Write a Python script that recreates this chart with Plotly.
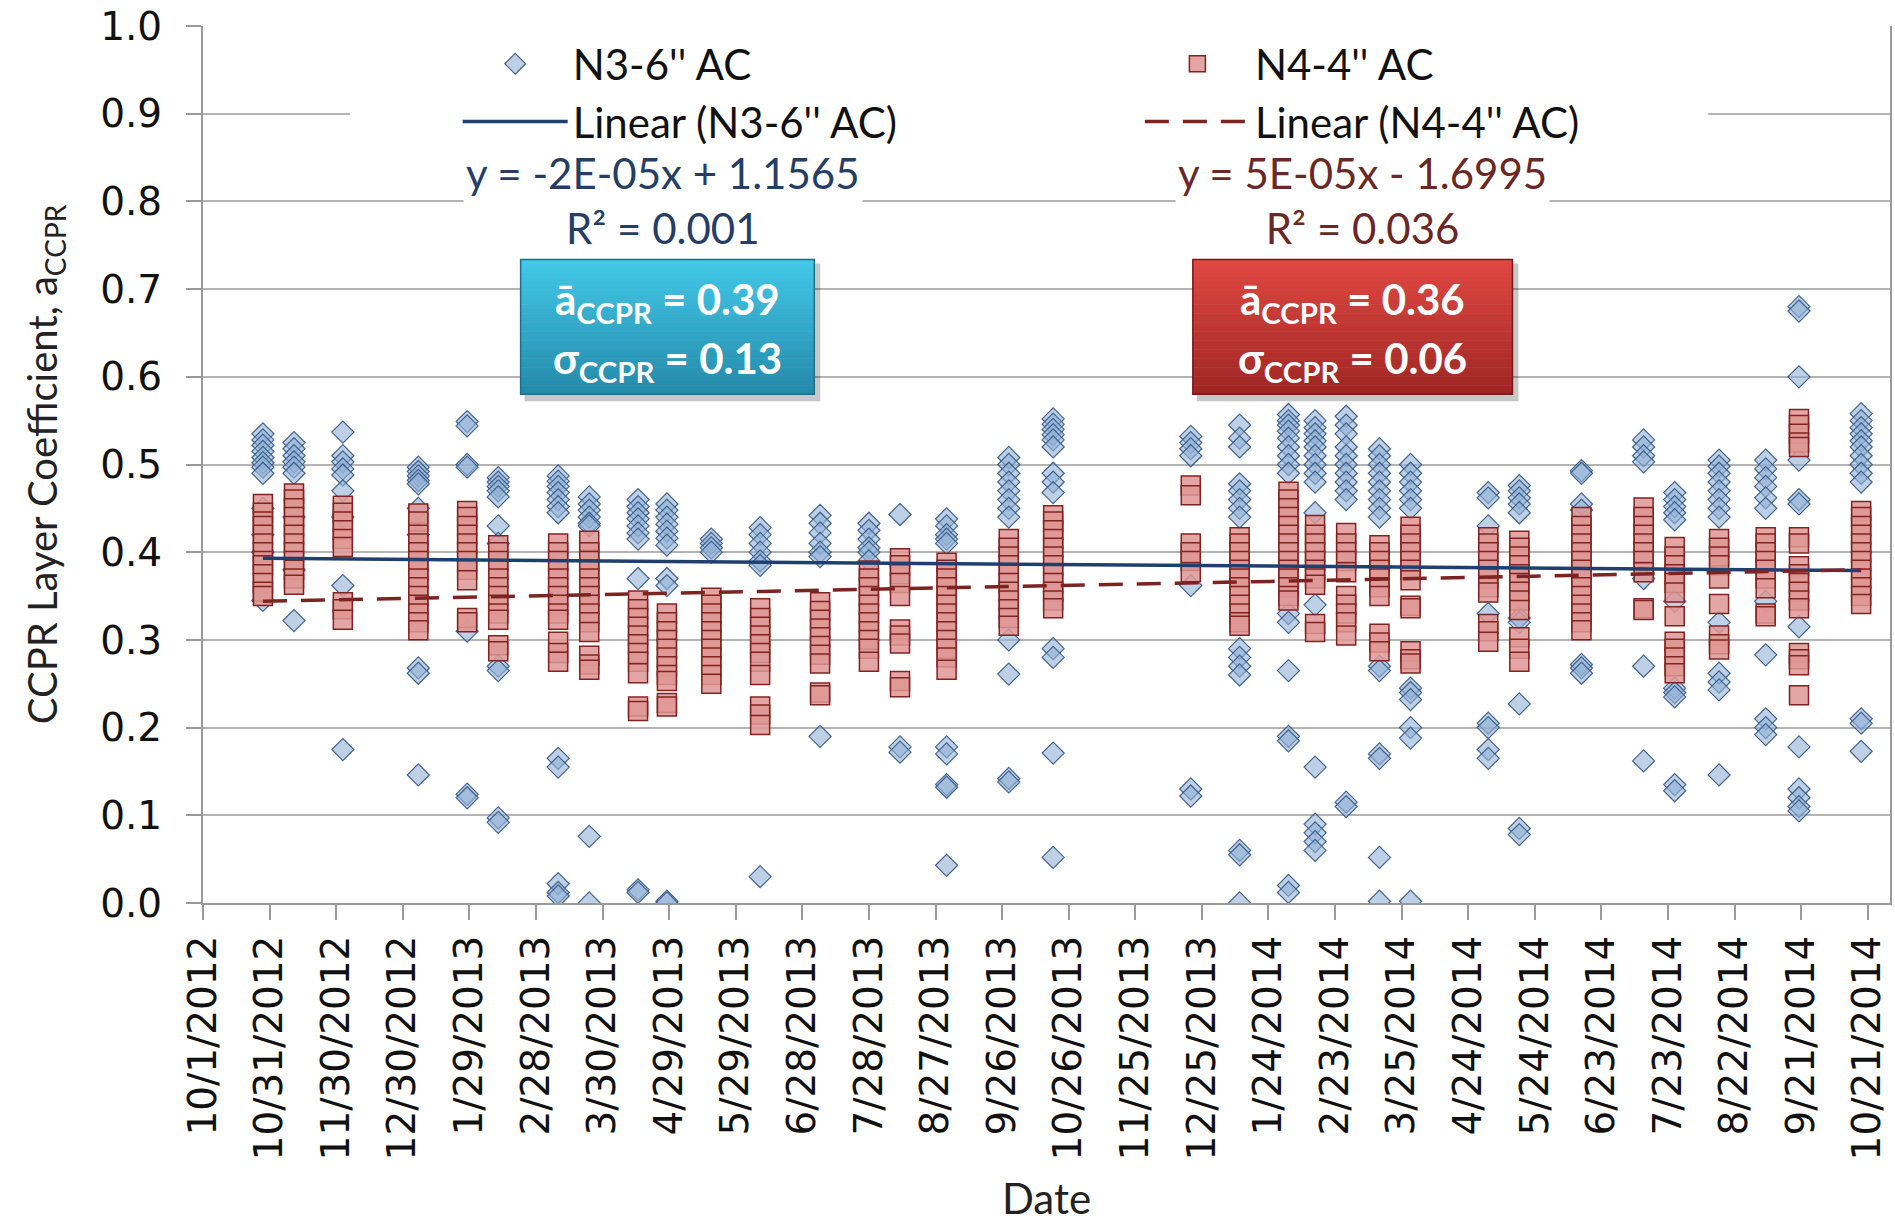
import plotly.graph_objects as go

# ---------------- data ----------------
dates = ["2012-10-28", "2012-11-11", "2012-12-03", "2013-01-06", "2013-01-28", "2013-02-11",
         "2013-03-10", "2013-03-24", "2013-04-15", "2013-04-28", "2013-05-18", "2013-06-09",
         "2013-07-06", "2013-07-28", "2013-08-11", "2013-09-01", "2013-09-29", "2013-10-19",
         "2013-12-20", "2014-01-11", "2014-02-02", "2014-02-14", "2014-02-28", "2014-03-15",
         "2014-03-29", "2014-05-03", "2014-05-17", "2014-06-14", "2014-07-12", "2014-07-26",
         "2014-08-15", "2014-09-05", "2014-09-20", "2014-10-18"]

n3_values = [
    [0.535, 0.528, 0.522, 0.515, 0.508, 0.502, 0.497, 0.49, 0.45, 0.42, 0.40, 0.345],
    [0.525, 0.518, 0.51, 0.503, 0.497, 0.49, 0.44, 0.38, 0.322],
    [0.537, 0.51, 0.503, 0.495, 0.488, 0.47, 0.44, 0.362, 0.175],
    [0.497, 0.492, 0.487, 0.482, 0.478, 0.45, 0.42, 0.268, 0.262, 0.146],
    [0.549, 0.544, 0.5, 0.497, 0.31, 0.124, 0.12],
    [0.485, 0.48, 0.475, 0.47, 0.463, 0.43, 0.41, 0.27, 0.265, 0.097, 0.092],
    [0.487, 0.481, 0.475, 0.468, 0.46, 0.452, 0.445, 0.165, 0.155, 0.022, 0.012, 0.008],
    [0.463, 0.455, 0.448, 0.44, 0.433, 0.43, 0.076, 0.0],
    [0.46, 0.452, 0.445, 0.438, 0.43, 0.422, 0.415, 0.37, 0.015, 0.012],
    [0.455, 0.448, 0.44, 0.432, 0.424, 0.416, 0.408, 0.37, 0.362, 0.002, 0.0],
    [0.415, 0.41, 0.405, 0.40],
    [0.428, 0.42, 0.41, 0.40, 0.39, 0.385, 0.03],
    [0.442, 0.433, 0.422, 0.41, 0.40, 0.395, 0.19],
    [0.433, 0.425, 0.415, 0.405, 0.40, 0.39],
    [0.443, 0.178, 0.172],
    [0.438, 0.43, 0.42, 0.415, 0.41, 0.178, 0.17, 0.135, 0.132, 0.043],
    [0.508, 0.5, 0.49, 0.48, 0.47, 0.46, 0.45, 0.44, 0.30, 0.261, 0.142, 0.138],
    [0.552, 0.546, 0.54, 0.534, 0.528, 0.52, 0.49, 0.48, 0.468, 0.29, 0.28, 0.171, 0.052],
    [0.532, 0.525, 0.518, 0.51, 0.362, 0.13, 0.122],
    [0.545, 0.53, 0.52, 0.478, 0.47, 0.46, 0.45, 0.44, 0.29, 0.28, 0.27, 0.26, 0.06, 0.055, 0.0],
    [0.557, 0.55, 0.545, 0.538, 0.53, 0.52, 0.51, 0.5, 0.49, 0.33, 0.32, 0.265, 0.19, 0.185, 0.02, 0.012],
    [0.55, 0.542, 0.535, 0.527, 0.52, 0.51, 0.5, 0.49, 0.48, 0.445, 0.34, 0.155, 0.09, 0.08, 0.07, 0.06],
    [0.555, 0.545, 0.535, 0.52, 0.51, 0.5, 0.49, 0.48, 0.47, 0.46, 0.115, 0.11],
    [0.518, 0.51, 0.5, 0.49, 0.48, 0.47, 0.46, 0.45, 0.44, 0.27, 0.265, 0.17, 0.165, 0.052, 0.002],
    [0.5, 0.49, 0.48, 0.47, 0.46, 0.45, 0.245, 0.24, 0.232, 0.2, 0.188, 0.002],
    [0.468, 0.462, 0.43, 0.33, 0.205, 0.2, 0.175, 0.165],
    [0.476, 0.47, 0.462, 0.455, 0.445, 0.325, 0.32, 0.227, 0.085, 0.078],
    [0.493, 0.49, 0.455, 0.448, 0.272, 0.268, 0.262],
    [0.528, 0.52, 0.51, 0.503, 0.37, 0.27, 0.162],
    [0.468, 0.46, 0.452, 0.445, 0.437, 0.344, 0.245, 0.24, 0.235, 0.135, 0.128],
    [0.505, 0.498, 0.49, 0.48, 0.47, 0.46, 0.45, 0.44, 0.32, 0.262, 0.252, 0.243, 0.146],
    [0.505, 0.495, 0.485, 0.475, 0.462, 0.45, 0.344, 0.283, 0.21, 0.2, 0.192],
    [0.68, 0.675, 0.6, 0.505, 0.46, 0.455, 0.315, 0.178, 0.13, 0.12, 0.11, 0.105],
    [0.558, 0.55, 0.542, 0.535, 0.527, 0.52, 0.51, 0.5, 0.49, 0.48, 0.21, 0.205, 0.173],
]

n4_values = [
    [0.455, 0.445, 0.435, 0.43, 0.42, 0.41, 0.40, 0.39, 0.385, 0.375, 0.365, 0.355, 0.35],
    [0.467, 0.46, 0.45, 0.44, 0.43, 0.42, 0.41, 0.40, 0.39, 0.38, 0.37, 0.363],
    [0.453, 0.445, 0.435, 0.425, 0.415, 0.406, 0.343, 0.335, 0.323],
    [0.444, 0.435, 0.42, 0.41, 0.40, 0.39, 0.38, 0.37, 0.36, 0.35, 0.34, 0.33, 0.32, 0.311],
    [0.447, 0.44, 0.43, 0.42, 0.41, 0.40, 0.39, 0.38, 0.368, 0.325, 0.32],
    [0.408, 0.40, 0.39, 0.38, 0.37, 0.36, 0.35, 0.34, 0.33, 0.323, 0.294, 0.287],
    [0.41, 0.40, 0.39, 0.38, 0.37, 0.36, 0.35, 0.34, 0.33, 0.323, 0.298, 0.285, 0.275],
    [0.413, 0.40, 0.39, 0.38, 0.37, 0.36, 0.35, 0.34, 0.33, 0.32, 0.309, 0.282, 0.272, 0.266],
    [0.345, 0.335, 0.325, 0.315, 0.305, 0.295, 0.285, 0.275, 0.262, 0.224, 0.219],
    [0.33, 0.32, 0.31, 0.30, 0.29, 0.28, 0.27, 0.26, 0.253, 0.228, 0.224],
    [0.348, 0.34, 0.33, 0.32, 0.31, 0.30, 0.29, 0.28, 0.27, 0.26, 0.25],
    [0.336, 0.325, 0.315, 0.305, 0.295, 0.285, 0.275, 0.26, 0.224, 0.215, 0.203],
    [0.343, 0.333, 0.323, 0.313, 0.303, 0.293, 0.283, 0.273, 0.24, 0.237],
    [0.379, 0.37, 0.36, 0.35, 0.34, 0.33, 0.32, 0.31, 0.30, 0.29, 0.275],
    [0.393, 0.385, 0.375, 0.365, 0.35, 0.312, 0.305, 0.296, 0.253, 0.246],
    [0.388, 0.38, 0.37, 0.36, 0.35, 0.34, 0.33, 0.32, 0.31, 0.30, 0.29, 0.28, 0.266],
    [0.415, 0.405, 0.395, 0.385, 0.375, 0.365, 0.355, 0.345, 0.335, 0.325, 0.316],
    [0.442, 0.435, 0.425, 0.415, 0.405, 0.395, 0.385, 0.375, 0.365, 0.355, 0.345, 0.336],
    [0.476, 0.465, 0.41, 0.40, 0.39, 0.377],
    [0.417, 0.41, 0.40, 0.39, 0.38, 0.37, 0.36, 0.35, 0.34, 0.33, 0.32, 0.316],
    [0.469, 0.46, 0.45, 0.44, 0.43, 0.42, 0.41, 0.40, 0.39, 0.38, 0.37, 0.36, 0.35, 0.345],
    [0.431, 0.42, 0.41, 0.40, 0.39, 0.38, 0.37, 0.363, 0.318, 0.309],
    [0.422, 0.41, 0.40, 0.39, 0.377, 0.35, 0.34, 0.33, 0.32, 0.305],
    [0.408, 0.40, 0.39, 0.38, 0.37, 0.36, 0.35, 0.307, 0.297, 0.287],
    [0.429, 0.42, 0.41, 0.40, 0.39, 0.38, 0.368, 0.339, 0.336, 0.287, 0.278, 0.273],
    [0.417, 0.41, 0.40, 0.39, 0.38, 0.37, 0.36, 0.354, 0.318, 0.31, 0.298],
    [0.413, 0.405, 0.395, 0.385, 0.375, 0.365, 0.355, 0.345, 0.334, 0.303, 0.29, 0.275],
    [0.44, 0.43, 0.42, 0.41, 0.40, 0.39, 0.38, 0.37, 0.36, 0.35, 0.34, 0.33, 0.32, 0.311],
    [0.451, 0.44, 0.43, 0.42, 0.41, 0.40, 0.39, 0.377, 0.336, 0.334],
    [0.406, 0.395, 0.385, 0.375, 0.365, 0.354, 0.327, 0.298, 0.29, 0.28, 0.27, 0.262],
    [0.415, 0.405, 0.395, 0.385, 0.37, 0.341, 0.305, 0.295, 0.289],
    [0.417, 0.41, 0.40, 0.39, 0.38, 0.37, 0.359, 0.33, 0.327],
    [0.552, 0.545, 0.535, 0.525, 0.52, 0.417, 0.41, 0.384, 0.375, 0.365, 0.355, 0.345, 0.336,
     0.285, 0.278, 0.271, 0.237],
    [0.447, 0.44, 0.43, 0.42, 0.41, 0.40, 0.39, 0.38, 0.37, 0.36, 0.35, 0.341],
]

trend_dates = ["2012-10-28", "2014-10-18"]
n3_trend = [0.393, 0.379]
n4_trend = [0.344, 0.380]

series_names = ["N3-6'' AC", "N4-4'' AC", "Linear (N3-6'' AC)", "Linear (N4-4'' AC)"]
eq_n3 = ["y = -2E-05x + 1.1565", "R² = 0.001"]
eq_n4 = ["y = 5E-05x - 1.6995", "R² = 0.036"]
stats_n3 = ["0.39", "0.13"]
stats_n4 = ["0.36", "0.06"]

# ---------------- layout geometry (pixels) ----------------
W, H = 1895, 1223
PL, PR, PT, PB = 203, 1892, 26, 905


def px_x(px):
    return (px - PL) / (PR - PL)


def px_y(py):
    return (PB - py) / (PB - PT)


n3_x = [d for d, vals in zip(dates, n3_values) for _ in vals]
n3_y = [v for vals in n3_values for v in vals]
n4_x = [d for d, vals in zip(dates, n4_values) for _ in vals]
n4_y = [v for vals in n4_values for v in vals]

LABEL_FONT = "Lato, 'Open Sans', sans-serif"
TICK_FONT = "'DejaVu Sans', Verdana, sans-serif"

fig = go.Figure()
fig.add_trace(go.Scatter(
    x=n3_x, y=n3_y, mode="markers", name=series_names[0], legend="legend",
    marker=dict(symbol="diamond", size=17, color="rgba(145,176,214,0.6)",
                line=dict(color="rgba(52,88,134,0.9)", width=1.2)),
))
fig.add_trace(go.Scatter(
    x=n4_x, y=n4_y, mode="markers", name=series_names[1], legend="legend2",
    marker=dict(symbol="square", size=19, color="rgba(222,150,148,0.85)",
                line=dict(color="rgb(130,35,33)", width=1.5)),
))
fig.add_trace(go.Scatter(
    x=trend_dates, y=n3_trend, mode="lines", name=series_names[2], legend="legend",
    line=dict(color="rgb(31,64,110)", width=3.5),
))
fig.add_trace(go.Scatter(
    x=trend_dates, y=n4_trend, mode="lines", name=series_names[3], legend="legend2",
    line=dict(color="rgb(125,35,33)", width=3.5, dash="24px,14px"),
))

shapes = []
# white band behind the legend
shapes.append(dict(type="rect", xref="paper", yref="paper", layer="above",
                   x0=px_x(350), x1=px_x(1710), y0=px_y(138), y1=px_y(34),
                   fillcolor="white", line=dict(width=0)))


def gradient_box(x0, x1, y0, y1, top, bottom, border):
    out = []
    out.append(dict(type="rect", xref="paper", yref="paper", layer="above",
                    x0=px_x(x0 + 4), x1=px_x(x1 + 6), y0=px_y(y1 + 7), y1=px_y(y0 + 4),
                    fillcolor="rgba(0,0,0,0.22)", line=dict(width=0)))
    n = 30
    for i in range(n):
        t = i / (n - 1)
        c = [round(top[k] + (bottom[k] - top[k]) * t) for k in range(3)]
        ya = y0 + (y1 - y0) * i / n
        yb = y0 + (y1 - y0) * (i + 1) / n
        out.append(dict(type="rect", xref="paper", yref="paper", layer="above",
                        x0=px_x(x0), x1=px_x(x1), y0=px_y(yb + 0.5), y1=px_y(ya),
                        fillcolor=f"rgb({c[0]},{c[1]},{c[2]})", line=dict(width=0)))
    out.append(dict(type="rect", xref="paper", yref="paper", layer="above",
                    x0=px_x(x0), x1=px_x(x1), y0=px_y(y1), y1=px_y(y0),
                    fillcolor="rgba(0,0,0,0)", line=dict(color=border, width=1.5)))
    return out


shapes += gradient_box(521, 815, 260, 395, (66, 200, 232), (36, 138, 170), "rgb(30,110,140)")
shapes += gradient_box(1194, 1514, 260, 395, (224, 72, 66), (160, 38, 36), "rgb(120,25,25)")


def box_text(cx, cy, text):
    return dict(xref="paper", yref="paper", x=px_x(cx), y=px_y(cy), xanchor="center",
                yanchor="middle", text="<b>" + text + "</b>", showarrow=False,
                font=dict(family=LABEL_FONT, size=42, color="white"))


annotations = [
    dict(xref="paper", yref="paper", x=px_x(664), y=px_y(201), xanchor="center", yanchor="middle",
         text=eq_n3[0] + "<br>" + eq_n3[1], showarrow=False, align="center",
         font=dict(family=LABEL_FONT, size=42, color="rgb(38,62,102)"),
         bgcolor="white", borderpad=2),
    dict(xref="paper", yref="paper", x=px_x(1364), y=px_y(201), xanchor="center", yanchor="middle",
         text=eq_n4[0] + "<br>" + eq_n4[1], showarrow=False, align="center",
         font=dict(family=LABEL_FONT, size=42, color="rgb(105,40,38)"),
         bgcolor="white", borderpad=2),
    box_text(668, 303, "ā<sub>CCPR</sub> = " + stats_n3[0]),
    box_text(668, 362, "σ<sub>CCPR</sub> = " + stats_n3[1]),
    box_text(1354, 303, "ā<sub>CCPR</sub> = " + stats_n4[0]),
    box_text(1354, 362, "σ<sub>CCPR</sub> = " + stats_n4[1]),
]

axis_gray = "#9a9a9a"
fig.update_layout(
    width=W, height=H,
    margin=dict(l=PL, r=W - PR, t=PT, b=H - PB, pad=0),
    paper_bgcolor="white", plot_bgcolor="white",
    shapes=shapes, annotations=annotations,
    legend=dict(x=px_x(458), y=px_y(30), xanchor="left", yanchor="top",
                bgcolor="rgba(0,0,0,0)", itemwidth=105, tracegroupgap=0,
                font=dict(family=LABEL_FONT, size=42, color="#111")),
    legend2=dict(x=px_x(1141), y=px_y(30), xanchor="left", yanchor="top",
                 bgcolor="rgba(0,0,0,0)", itemwidth=105, tracegroupgap=0,
                 font=dict(family=LABEL_FONT, size=42, color="#111")),
    xaxis=dict(
        type="date", range=["2012-10-01", "2014-10-31"],
        tick0="2012-10-01", dtick=30 * 86400000, tickformat="%-m/%-d/%Y",
        tickangle=-90, ticks="outside", ticklen=15, tickcolor=axis_gray, tickwidth=1.5,
        showgrid=False, showline=True, linecolor=axis_gray, linewidth=2, zeroline=False,
        tickfont=dict(family=TICK_FONT, size=39, color="#111"),
        title=dict(text="Date", font=dict(family=LABEL_FONT, size=42, color="#222"), standoff=30),
    ),
    yaxis=dict(
        range=[0, 1.0], dtick=0.1, tickformat=".1f",
        ticks="outside", ticklen=15, tickcolor=axis_gray, tickwidth=1.5,
        showgrid=True, gridcolor="#b4b4b4", gridwidth=2,
        showline=True, linecolor=axis_gray, linewidth=2, mirror=True, zeroline=False,
        tickfont=dict(family=TICK_FONT, size=39, color="#111"), ticklabelstandoff=16,
        title=dict(text="CCPR Layer Coefficient, a<sub>CCPR</sub>",
                   font=dict(family=LABEL_FONT, size=40, color="#222"), standoff=30),
    ),
)

fig.write_html("out.html", config={"displayModeBar": False},
               post_script="document.body.style.margin='0';document.body.style.overflow='hidden';")
